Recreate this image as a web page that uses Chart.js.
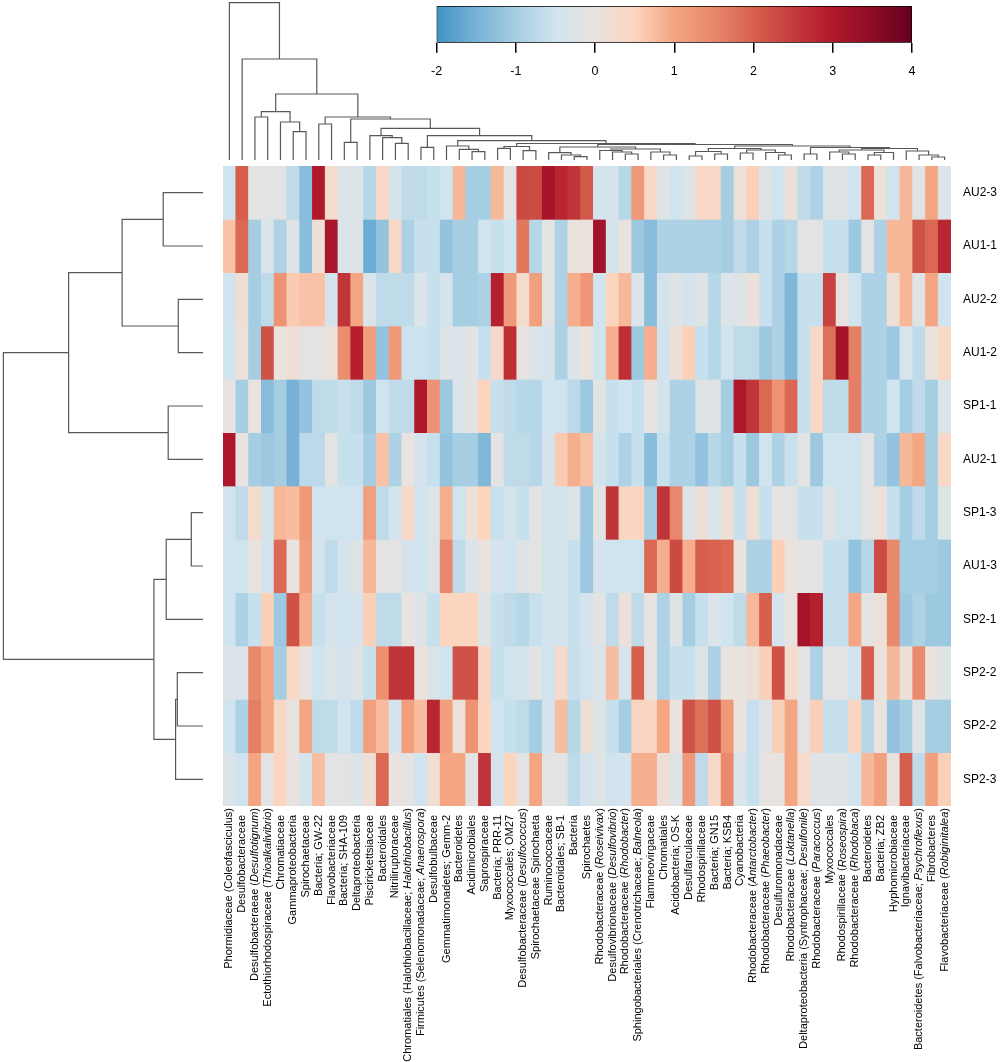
<!DOCTYPE html>
<html>
<head>
<meta charset="utf-8">
<title>Heatmap</title>
<script src="https://cdn.jsdelivr.net/npm/chart.js@4.4.1/dist/chart.umd.min.js"></script>
<style>
  html, body { margin: 0; padding: 0; background: #fff; }
  #page { position: relative; width: 1000px; height: 1062px; overflow: hidden; }
  canvas { position: absolute; }
</style>
</head>
<body>
<div id="page">
  <canvas id="heat" width="1000" height="1062" style="left:0;top:0;width:1000px;height:1062px"></canvas>
  <canvas id="colTree" width="728" height="162" style="left:223px;top:0;width:728px;height:162px"></canvas>
  <canvas id="rowTree" width="206" height="640" style="left:0;top:166px;width:206px;height:640px"></canvas>
  <canvas id="key" width="510" height="82" style="left:420px;top:0;width:510px;height:82px"></canvas>
</div>
<script>
const FONT = '"Liberation Sans", Arial, Helvetica, sans-serif';

/* Etiquetas de filas (muestras) y columnas (taxones); _texto_ = cursiva */
const rowNames = ["AU2-3", "AU1-1", "AU2-2", "AU1-2", "SP1-1", "AU2-1", "SP1-3", "AU1-3", "SP2-1", "SP2-2", "SP2-2", "SP2-3"];
const colLabels = [
	"Phormidiaceae (Coleofasciculus)", "Desulfobacteraceae", "Desulfobacteraeae (_Desulfotignum_)",
	"Ectothiorhodospiraceae (_Thioalkalivibrio_)", "Chromatiaceae", "Gammaproteobacteria", "Spirochaetaceae",
	"Bacteria; GW-22", "Flavobacteriaceae", "Bacteria; SHA-109", "Deltaproteobacteria", "Piscirickettsiaceae",
	"Bacteroidales", "Nitriliruptoraceae", "Chromatiales (Halothiobacillaceae; _Halothiobacillus_)",
	"Firmicutes (Selenomonadaceae; _Anaerospora_)", "Desulfobulbaceae", "Gemmatimonadetes; Gemm-2",
	"Bacteroidetes", "Acidimicrobiales", "Saprospiraceae", "Bacteria; PRR-11", "Myxococcales; OM27",
	"Desulfobacteraceae (_Desulfococcus_)", "Spirochaetaceae Spirochaeta", "Ruminococcaceae",
	"Bacteroidales; SB-1", "Bacteria", "Spirochaetes", "Rhodobacteraceae (_Roseivivax_)",
	"Desulfovibrionaceae (_Desulfovibrio_)", "Rhodobacteraceae (_Rhodobacter_)",
	"Sphingobacteriales (Crenotrichaceae; _Balneola_)", "Flammeovirgaceae", "Chromatiales",
	"Acidobacteria; OS-K", "Desulfarculaceae", "Rhodospirillaceae", "Bacteria; GN15", "Bacteria; KSB4",
	"Cyanobacteria", "Rhodobacteraceae (_Antarctobacter_)", "Rhodobacteraceae (_Phaeobacter_)",
	"Desulfuromonadaceae", "Rhodobacteraceae (_Loktanella_)", "Deltaproteobacteria (Syntrophaceae; _Desulfonile_)",
	"Rhodobacteraceae (_Paracoccus_)", "Myxococcales", "Rhodospirillaceae (_Roseospira_)",
	"Rhodobacteraceae (_Rhodobaca_)", "Bacteroidetes", "Bacteria; ZB2", "Hyphomicrobiaceae",
	"Ignavibacteriaceae", "Bacteroidetes (Falvobacteriaceae; _Psychroflexus_)", "Fibrobacteres",
	"Flavobacteriaceae (_Robiginitalea_)"
];

/* Valores escalados por fila (z-score), 57 columnas cada una */
const heatAU2_3 = [-0.5, 2.0, -0.1, -0.1, -0.1, -0.7, -1.3, 3.0, 0.3, -0.3, -0.3, -0.8, 0.4, -0.4, -0.7, -0.7, -0.6, -0.5, 0.8,
	-1.0, -1.0, 0.8, -0.1, 2.3, 2.3, 3.15, 2.8, 2.6, 2.1, -0.4, -0.4, -0.8, 1.2, 0.4, -0.2, -0.5, -0.2, 0.4,
	0.4, -1.0, 0.1, 0.55, -0.2, -0.5, 0.1, -0.7, -0.9, -0.2, -0.2, -0.5, 1.9, 0.1, -0.5, 0.8, -0.2, 1.0, -0.3];
const heatAU1_1 = [0.7, 1.9, -1.0, -0.3, -0.9, -0.2, -1.3, 0.1, 3.1, -0.3, -0.2, -1.6, -1.2, 0.4, -0.9, -0.6, -0.6, -1.2, -1.0,
	-1.0, -0.5, -0.6, -0.5, 1.7, -0.8, -0.1, -0.9, 0.05, 0.05, 3.2, -0.4, 0.05, -1.1, -1.3, -0.9, -0.9, -0.9, -0.9,
	-0.9, -1.0, -0.7, -0.9, -0.6, -0.9, -0.8, -0.1, -0.1, -0.6, -0.6, -1.1, -0.1, -0.9, 0.8, 0.8, 2.2, 1.9, 2.8];
const heatAU2_2 = [-0.5, 0.2, -1.0, -0.7, 1.3, 0.6, 0.7, 0.7, -0.4, 2.6, 1.0, -0.3, -0.7, -0.7, -0.7, -0.3, -0.6, -0.4, -1.0,
	-1.0, -0.9, 2.9, 1.2, 0.3, 1.1, -0.1, -0.9, 0.9, 1.25, -0.5, 0.5, 0.8, -0.3, -1.3, -0.4, -0.2, -0.4, -0.2,
	-0.8, -0.3, -0.2, 0.1, -0.6, -0.9, -1.4, -0.6, -0.6, 2.4, 0.0, -0.5, -0.9, -0.9, 0.15, 0.8, -0.2, 1.0, -0.5];
const heatAU1_2 = [-0.5, 0.1, -1.0, 2.2, 0.05, 0.15, -0.1, -0.1, 0.1, 1.4, 2.9, 1.1, -1.2, 1.2, -0.55, -0.55, -0.6, -0.2, -0.3,
	-0.1, -0.6, 0.35, 2.7, 0.0, -0.3, -0.4, -0.9, -0.3, 0.05, -0.5, 0.9, 2.7, -1.1, 0.9, -0.5, 0.15, 0.55, -0.6,
	-0.8, -0.5, -0.7, -0.7, -1.1, -0.9, -1.4, -0.6, 0.4, 1.8, 3.15, 1.6, -0.9, -0.9, -1.1, -0.35, -0.7, 0.05, 0.4];
const heatSP1_1 = [0.0, -1.0, 0.0, -1.3, -1.0, -1.5, -1.2, -0.7, -0.7, -0.6, -0.7, -1.1, -0.5, -0.7, -0.7, 3.05, 1.3, -1.1, -0.3,
	-0.1, 0.5, -0.6, -0.7, -0.8, -0.8, -0.5, -0.5, -0.75, -1.1, -0.1, -0.6, -0.5, -0.6, 0.0, -0.4, -0.9, -0.9, -0.2,
	-0.2, -1.0, 3.05, 2.6, 1.9, 1.3, 1.9, -0.6, 0.4, -0.7, -0.7, 1.6, -0.9, -0.9, -0.5, -1.0, -0.7, -1.0, -0.3];
const heatAU2_1 = [3.05, 0.0, -1.0, -1.1, -1.0, -1.5, -0.75, -0.75, -0.1, -0.6, -0.6, -1.0, 0.7, -0.9, 0.0, -0.4, -0.6, -1.2, -1.0,
	-1.0, -1.4, -0.1, -0.7, -0.7, -0.8, -0.4, 0.6, 0.9, 0.7, -0.4, -0.6, -0.9, -0.6, -1.3, -0.6, -0.9, -0.9, -1.2,
	-0.8, -1.0, -0.6, -1.1, -0.5, -0.9, -0.6, -0.1, -1.1, -0.5, -0.5, -0.5, -0.1, -0.9, -1.2, 0.8, 1.0, -1.0, 0.4];
const heatSP1_3 = [-0.5, -0.7, 0.3, -0.4, 0.8, 0.75, 1.2, -0.5, -0.5, -0.5, -0.5, 1.1, -0.7, -0.4, 0.4, -0.5, -0.3, 0.9, -0.5,
	0.1, 0.5, -0.6, -0.4, -0.6, -0.1, -0.4, -0.4, -0.3, -1.1, -0.1, 2.6, 0.45, 0.45, -1.0, 2.6, 1.5, -0.2, 0.15,
	-0.3, 0.15, -0.6, 0.2, -0.6, 0.0, -0.1, -0.6, -0.6, -0.2, -0.5, -0.5, -0.1, 0.1, -0.6, -1.0, -0.7, -1.0, -0.2];
const heatAU1_3 = [-0.5, -0.5, 0.05, -0.4, 1.9, 0.0, 1.1, -0.4, -0.7, -0.4, -0.2, 0.8, -0.1, -0.1, -0.4, -0.5, -0.2, 1.5, -0.7,
	-0.3, 0.05, -0.4, -0.5, -0.2, -0.1, -0.4, -0.4, -0.6, -1.1, -0.4, -0.5, -0.5, -0.5, 1.9, 0.9, 2.3, 0.9, 2.0,
	1.95, 1.9, 0.05, -0.9, -0.9, 0.55, 0.05, -0.1, -0.1, -0.6, -0.6, -1.2, -0.8, 2.3, 1.45, -1.0, -1.0, -1.0, -1.1];
const heatSP2_1 = [-0.5, -0.9, -0.6, 0.55, -1.1, 2.2, 0.9, -0.6, -0.4, -0.5, -0.4, 0.55, -0.7, -0.7, 0.0, -0.2, -0.6, 0.5, 0.5,
	0.5, -0.2, -0.6, -0.7, -0.8, -0.6, -0.4, -0.4, -0.6, -0.4, -0.1, -0.7, 0.1, -0.7, 0.0, -0.9, -0.2, -1.0, -0.6,
	-0.3, -0.5, -0.7, 0.8, 2.0, -0.4, 0.0, 3.15, 2.9, -0.6, -0.6, 1.0, -0.1, 0.1, 1.45, -1.1, -0.9, -1.1, -1.1];
const heatSP2_2a = [-0.3, -0.3, 1.45, 1.0, -1.0, 0.4, 0.0, -0.5, -0.3, -0.4, -0.2, -0.6, 1.35, 2.6, 2.6, 0.05, -0.3, -0.5, 2.2,
	2.2, 0.45, -0.6, -0.5, -0.4, -0.1, -0.5, 0.3, -0.6, -0.5, -0.3, 0.75, -0.35, 2.0, 0.0, -0.9, -0.6, -0.6, -0.2,
	-0.9, 0.05, 0.05, 0.15, 0.55, 2.2, 0.3, -0.1, -0.9, -0.1, -0.1, -0.5, 2.0, 0.05, 0.8, 0.15, 1.45, 0.05, -0.2];
const heatSP2_2b = [-0.5, -0.9, 1.6, 1.0, 0.4, 0.0, 1.0, -0.7, -0.7, -0.5, -0.7, 1.1, 0.75, -0.4, 1.1, 0.75, 2.8, 1.1, 0.1,
	1.3, 0.45, -0.5, -0.6, -0.7, -1.0, -0.4, 0.75, -0.8, 0.15, -0.2, -0.6, -1.0, 0.45, 0.45, 1.0, 0.05, 2.2, 1.8,
	2.2, 1.2, 0.05, -0.6, -0.2, 0.55, 1.0, -0.1, 0.55, -0.6, -0.6, 0.45, -0.8, 0.05, -1.2, -1.0, -0.2, -1.0, -1.0];
const heatSP2_3 = [-0.3, -0.5, 1.0, -0.1, 0.5, 0.0, -0.4, 0.75, -0.1, -0.1, -0.3, 0.15, 1.9, 0.0, -0.1, -0.5, 0.2, 1.0, 1.0,
	-0.1, 2.6, -0.4, 0.5, -0.1, 1.0, -0.1, -0.1, -0.7, -0.4, -0.2, -0.5, -0.4, 0.9, 0.9, 0.15, -0.2, 1.2, -0.7,
	0.35, 1.45, -0.3, -0.6, 0.0, 0.0, 1.0, 0.3, -0.2, -0.2, -0.2, -0.5, 0.8, 1.1, 0.05, 2.0, -0.7, 1.1, 0.55];
const heatRows = [heatAU2_3, heatAU1_1, heatAU2_2, heatAU1_2, heatSP1_1, heatAU2_1,
	heatSP1_3, heatAU1_3, heatSP2_1, heatSP2_2a, heatSP2_2b, heatSP2_3];

/* Escala de color (Color Key) */
const keyTicks = [-2, -1, 0, 1, 2, 3, 4];
const colorStops = [-2, -1.5, -1, -0.5, 0, 0.5, 1, 1.5, 2, 2.5, 3, 3.5, 4];
const colorHex = ["#4393c3", "#77b2d6", "#a5cee3", "#d0e4ef", "#e8e3e0", "#fcd5bf", "#f4a582",
	"#e8876b", "#d6604d", "#c43c3c", "#b2182b", "#8c0c25", "#67001f"];

/* Dendrograma de columnas: fusiones tipo hclust (negativo = hoja) */
const colMergeA = [-3, -6, -5, 1, -8, -10, -14, -13, -12, -16, -20, -19, -18, -22, -24, 14, -28, -27, -26, -32,
	-31, -30, -35, -34, 22, 19, -37, -39, 27, -41, -44, -43, 30, 29, -46, -49, -48, -51, 38, 37,
	-56, -55, -54, 40, 35, 34, 26, 16, 13, 10, 9, 6, 5, 4, -2, -1];
const colMergeB = [-4, -7, 2, 3, -9, -11, -15, 7, 8, -17, -21, 11, 12, -23, -25, 15, -29, 17, 18, -33,
	20, 21, -36, 23, 24, 25, -38, -40, 28, -42, -45, 31, 32, 33, -47, -50, 36, -52, -53, 39,
	-57, 41, 42, 43, 44, 45, 46, 47, 48, 49, 50, 51, 52, 53, 54, 55];
const colMergeH = [43, 28.3, 38, 48.3, 36, 17.7, 16.7, 22.3, 24.3, 12.7, 8.3, 10.7, 14, 11.7, 9.3, 13.5, 3.3, 5, 7.3, 6,
	8, 9.5, 5, 8, 11, 13, 4, 6, 8.5, 7, 5, 7.5, 10, 11.5, 6, 6, 8, 5, 7.5, 10,
	3, 5, 9, 11.5, 12.5, 14, 15.5, 16.5, 19.3, 24.3, 31.7, 41, 43, 66, 101, 157.3];

/* Dendrograma de filas */
const rowMergeA = [-1, -3, 1, -5, 3, -7, 6, -10, 8, 7, 5];
const rowMergeB = [-2, -4, 2, -6, 4, -8, -9, -11, -12, 9, 10];
const rowMergeH = [39.8, 24.7, 80.9, 34.8, 134.4, 11.7, 36.8, 25.7, 27.4, 49.1, 199.6];

const nRows = rowNames.length;
const nCols = colLabels.length;
const TREE_COLOR = "#585858";

function hexToRgb(h) {
	return [parseInt(h.slice(1, 3), 16), parseInt(h.slice(3, 5), 16), parseInt(h.slice(5, 7), 16)];
}
function heatColor(v) {
	const last = colorStops.length - 1;
	if (v <= colorStops[0]) return colorHex[0];
	if (v >= colorStops[last]) return colorHex[last];
	let i = 0;
	while (v > colorStops[i + 1]) i++;
	const t = (v - colorStops[i]) / (colorStops[i + 1] - colorStops[i]);
	const a = hexToRgb(colorHex[i]), b = hexToRgb(colorHex[i + 1]);
	const c = a.map((x, k) => Math.round(x + (b[k] - x) * t));
	return `rgb(${c[0]},${c[1]},${c[2]})`;
}

/* Segmentos en forma de U de cada fusión */
function dendroSegments(mergeA, mergeB, mergeH) {
	const pos = [], hgt = [];
	const p = (id) => (id < 0 ? -id : pos[id - 1]);
	const h = (id) => (id < 0 ? 0 : hgt[id - 1]);
	return mergeA.map((a, i) => {
		const b = mergeB[i], hh = mergeH[i];
		const seg = [[p(a), h(a)], [p(a), hh], [p(b), hh], [p(b), h(b)]];
		pos.push((p(a) + p(b)) / 2);
		hgt.push(hh);
		return seg;
	});
}

/* Etiquetas del mapa de calor (filas a la derecha, columnas giradas) */
const heatLabels = {
	id: "heatLabels",
	afterDraw(chart) {
		const { ctx, chartArea, scales } = chart;
		ctx.save();
		ctx.fillStyle = "#000";
		ctx.textBaseline = "middle";
		ctx.textAlign = "left";
		ctx.font = `12px ${FONT}`;
		rowNames.forEach((name, r) => {
			ctx.fillText(name, chartArea.right + 12, scales.y.getPixelForValue(nRows - r - 0.5));
		});
		const normal = `11px ${FONT}`, italic = `italic 11px ${FONT}`;
		colLabels.forEach((label, j) => {
			const parts = label.split("_");
			let total = 0;
			parts.forEach((s, k) => {
				ctx.font = k % 2 ? italic : normal;
				total += ctx.measureText(s).width;
			});
			const gap = label.endsWith(")") ? 2 : 9;
			ctx.save();
			ctx.translate(scales.x.getPixelForValue(j), chartArea.bottom + gap);
			ctx.rotate(-Math.PI / 2);
			let x = -total;
			parts.forEach((s, k) => {
				ctx.font = k % 2 ? italic : normal;
				ctx.fillText(s, x, 0);
				x += ctx.measureText(s).width;
			});
			ctx.restore();
		});
		ctx.restore();
	},
};

Chart.defaults.font.family = FONT;

/* Mapa de calor: una barra flotante por celda */
new Chart(document.getElementById("heat"), {
	type: "bar",
	data: {
		labels: colLabels.map((l) => l.replace(/_/g, "")),
		datasets: heatRows.map((vals, r) => ({
			label: rowNames[r],
			data: vals.map(() => [nRows - r - 1, nRows - r]),
			backgroundColor: vals.map(heatColor),
			borderWidth: 0,
			barPercentage: 1,
			categoryPercentage: 1,
			grouped: false,
		})),
	},
	options: {
		responsive: false,
		animation: false,
		layout: { padding: { left: 223, right: 49, top: 166, bottom: 256 } },
		plugins: { legend: { display: false }, tooltip: { enabled: false } },
		scales: {
			x: { display: false },
			y: { display: false, min: 0, max: nRows },
		},
	},
	plugins: [heatLabels],
});

function treeDataset(points) {
	return {
		data: points,
		showLine: true,
		borderColor: TREE_COLOR,
		borderWidth: 1.2,
		pointRadius: 0,
		fill: false,
		tension: 0,
		clip: false,
	};
}
const treeOptions = (scales, padding) => ({
	responsive: false,
	animation: false,
	layout: { padding },
	plugins: { legend: { display: false }, tooltip: { enabled: false } },
	scales,
});

/* Dendrograma de columnas (arriba) */
new Chart(document.getElementById("colTree"), {
	type: "scatter",
	data: {
		datasets: dendroSegments(colMergeA, colMergeB, colMergeH).map((seg) =>
			treeDataset(seg.map(([x, y]) => ({ x, y })))
		),
	},
	options: treeOptions(
		{
			x: { type: "linear", display: false, min: 0.5, max: nCols + 0.5 },
			y: { type: "linear", display: false, min: 0, max: 160 },
		},
		{ left: 0, right: 0, top: 0, bottom: 2 }
	),
});

/* Dendrograma de filas (izquierda) */
new Chart(document.getElementById("rowTree"), {
	type: "scatter",
	data: {
		datasets: dendroSegments(rowMergeA, rowMergeB, rowMergeH).map((seg) =>
			treeDataset(seg.map(([y, x]) => ({ x, y })))
		),
	},
	options: treeOptions(
		{
			x: { type: "linear", display: false, min: 0, max: 203, reverse: true },
			y: { type: "linear", display: false, min: 0.5, max: nRows + 0.5, reverse: true },
		},
		{ left: 0, right: 3, top: 0, bottom: 0 }
	),
});

/* Color Key */
new Chart(document.getElementById("key"), {
	type: "bar",
	data: {
		labels: ["key"],
		datasets: [
			{
				data: [[keyTicks[0], keyTicks[keyTicks.length - 1]]],
				backgroundColor(context) {
					const { chart } = context;
					if (!chart.chartArea) return null;
					const x = chart.scales.x;
					const lo = colorStops[0], hi = colorStops[colorStops.length - 1];
					const g = chart.ctx.createLinearGradient(x.getPixelForValue(lo), 0, x.getPixelForValue(hi), 0);
					colorStops.forEach((v, i) => g.addColorStop((v - lo) / (hi - lo), colorHex[i]));
					return g;
				},
				borderColor: "#000",
				borderWidth: 1,
				borderSkipped: false,
				barPercentage: 1,
				categoryPercentage: 1,
			},
		],
	},
	options: {
		indexAxis: "y",
		responsive: false,
		animation: false,
		layout: { padding: { left: 10, right: 18, top: 6, bottom: 2.6 } },
		plugins: { legend: { display: false }, tooltip: { enabled: false } },
		scales: {
			x: {
				type: "linear",
				min: keyTicks[0],
				max: keyTicks[keyTicks.length - 1],
				ticks: { stepSize: 1, color: "#000", font: { size: 12.5 }, padding: 11 },
				grid: { drawOnChartArea: false, drawTicks: true, tickLength: 10, color: "#000", lineWidth: 1.5 },
				border: { display: false },
			},
			y: { display: false },
		},
	},
});
</script>
</body>
</html>
